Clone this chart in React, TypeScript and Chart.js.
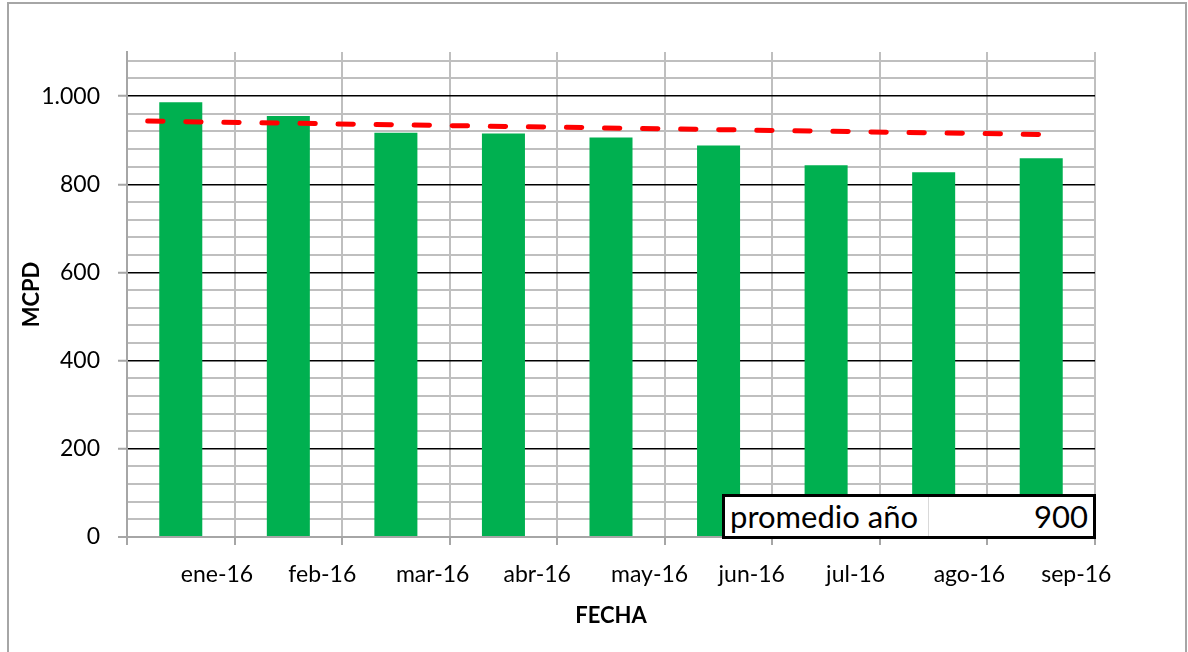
import React, { useEffect, useRef } from 'react';
import { Chart, registerables } from 'chart.js';

Chart.register(...registerables);

// ---- data ----
const months: string[] = ['ene-16', 'feb-16', 'mar-16', 'abr-16', 'may-16', 'jun-16', 'jul-16', 'ago-16', 'sep-16'];
const production: number[] = [986, 955, 917, 915, 906, 888, 843, 827, 859];
// dashed trend line: start/end points (category index, value)
const trendX: number[] = [-0.5, 8];
const trendY: number[] = [944, 913];
const yMin = 0;
const yMax = 1100;
const yMinorStep = 40;
const yMajorStep = 200;
const yTitle = 'MCPD';
const xTitle = 'FECHA';
const averageLabel = 'promedio año';
const averageValue = 900;

const GREEN = '#00B050';
const RED = '#FF0000';
const GRID_GRAY = '#BFBFBF';
const AXIS_GRAY = '#A6A6A6';
const FONT = 'Lato, "Open Sans", sans-serif';

function fmt(v: number): string {
  return String(v).replace(/\B(?=(\d{3})+(?!\d))/g, '.');
}

export default function App() {
  const canvasRef = useRef<HTMLCanvasElement | null>(null);

  useEffect(() => {
    const canvas = canvasRef.current;
    if (!canvas) return;
    Chart.defaults.font.family = FONT;
    Chart.defaults.color = '#000';

    const trendData = trendX.map((x, i) => ({ x, y: trendY[i] }));

    const chart = new Chart(canvas, {
      type: 'bar',
      data: {
        labels: months,
        datasets: [
          {
            type: 'line',
            label: 'tendencia',
            data: trendData as any,
            xAxisID: 'x2',
            yAxisID: 'y',
            borderColor: RED,
            borderWidth: 5,
            borderDash: [15.3, 22.77],
            borderDashOffset: 17.37,
            borderCapStyle: 'round',
            pointRadius: 0,
            fill: false,
            tension: 0,
            order: 0,
          } as any,
          {
            type: 'bar',
            label: 'MCPD',
            data: production,
            xAxisID: 'x',
            yAxisID: 'y',
            backgroundColor: GREEN,
            borderWidth: 0,
            grouped: false,
            barPercentage: 0.4,
            categoryPercentage: 1.0,
            order: 1,
          },
        ],
      },
      options: {
        responsive: false,
        animation: false,
        devicePixelRatio: 1,
        layout: { padding: { left: 0, right: 93, top: 52, bottom: 0 } },
        plugins: {
          legend: { display: false },
          tooltip: { enabled: false },
          title: { display: false },
        },
        scales: {
          x: {
            type: 'category',
            offset: true,
            afterFit: (s: any) => { s.height = 115; },
            grid: {
              offset: true,
              color: GRID_GRAY,
              lineWidth: 2,
              drawTicks: true,
              tickLength: 8,
              tickColor: AXIS_GRAY,
              tickWidth: 2,
            },
            border: { display: true, color: AXIS_GRAY, width: 2 },
            ticks: {
              align: 'start',
              padding: 16,
              autoSkip: false,
              maxRotation: 0,
              minRotation: 0,
              color: '#000',
              font: { size: 23, family: FONT, lineHeight: 1.2 },
            },
            title: {
              display: true,
              text: xTitle,
              color: '#000',
              font: { size: 22, weight: 'bold', family: FONT, lineHeight: 1.2 },
              padding: { top: 0, bottom: 23 },
            },
          },
          x2: {
            type: 'linear',
            display: false,
            offset: false,
            min: trendX[0],
            max: months.length - 0.5,
          },
          y: {
            type: 'linear',
            min: yMin,
            max: yMax,
            afterFit: (s: any) => { s.width = 127; },
            afterBuildTicks: (s: any) => {
              const t: any[] = [];
              for (let v = yMin; v < yMax; v += yMinorStep) t.push({ value: v });
              s.ticks = t;
            },
            grid: {
              color: (ctx: any) => {
                const v = ctx.tick ? ctx.tick.value : 0;
                if (v === 0) return AXIS_GRAY;
                return v % yMajorStep === 0 ? '#000000' : GRID_GRAY;
              },
              lineWidth: (ctx: any) => {
                const v = ctx.tick ? ctx.tick.value : 0;
                return v % yMajorStep === 0 && v !== 0 ? 1.5 : 2;
              },
              drawTicks: true,
              tickLength: 9,
              tickColor: (ctx: any) => {
                const v = ctx.tick ? ctx.tick.value : 0;
                return v % yMajorStep === 0 ? AXIS_GRAY : 'rgba(0,0,0,0)';
              },
              tickWidth: 2,
            },
            border: { display: true, color: AXIS_GRAY, width: 2 },
            ticks: {
              autoSkip: false,
              padding: 18,
              color: '#000',
              font: { size: 23, family: FONT, lineHeight: 1.2 },
              callback: (value: any) => {
                const v = Number(value);
                return v % yMajorStep === 0 ? fmt(v) : '';
              },
            },
            title: {
              display: true,
              text: yTitle,
              color: '#000',
              font: { size: 22, weight: 'bold', family: FONT, lineHeight: 1.2 },
              padding: { top: 19, bottom: 0 },
            },
          },
        },
      } as any,
    });

    return () => {
      chart.destroy();
    };
  }, []);

  return (
    <div style={{ position: 'fixed', left: 0, top: 0, width: 1188, height: 652, background: '#fff', overflow: 'hidden' }}>
      <div
        style={{
          position: 'absolute',
          left: 7,
          top: 2,
          width: 1180,
          height: 680,
          border: `2px solid ${AXIS_GRAY}`,
          boxSizing: 'border-box',
        }}
      />
      <canvas
        ref={canvasRef}
        width={1188}
        height={652}
        style={{ position: 'absolute', left: 0, top: 0, width: 1188, height: 652 }}
      />
      <div
        style={{
          position: 'absolute',
          left: 722,
          top: 494,
          width: 374,
          height: 45,
          boxSizing: 'border-box',
          border: '3px solid #000',
          background: '#fff',
          display: 'flex',
          fontFamily: FONT,
          fontSize: 31,
          lineHeight: '39px',
          color: '#000',
        }}
      >
        <div style={{ width: 204, paddingLeft: 5, borderRight: '1px solid #D9D9D9', boxSizing: 'border-box', whiteSpace: 'nowrap' }}>
          {averageLabel}
        </div>
        <div style={{ flex: 1, textAlign: 'right', paddingRight: 5 }}>{fmt(averageValue)}</div>
      </div>
    </div>
  );
}
